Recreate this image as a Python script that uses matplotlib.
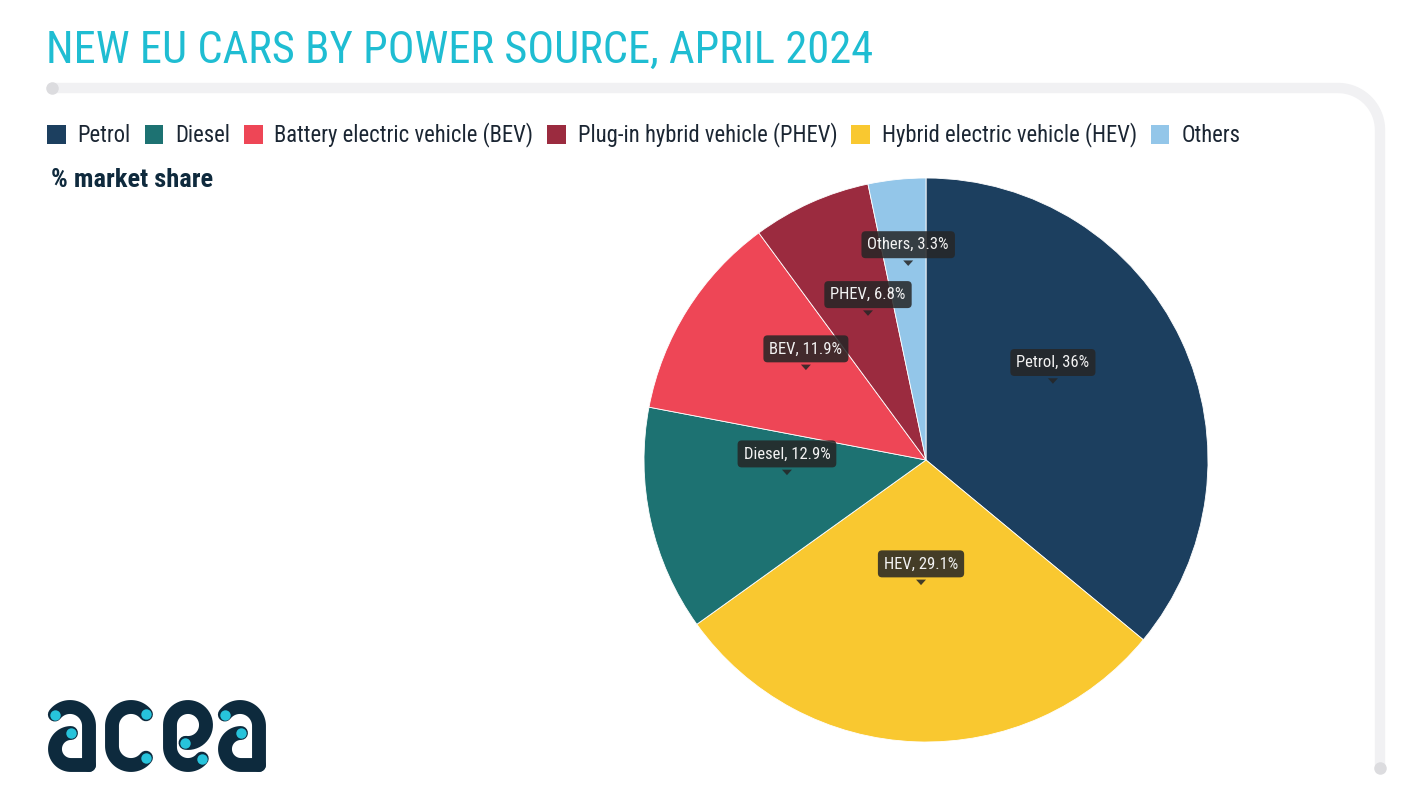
import numpy as np
import matplotlib
matplotlib.use("Agg")
import matplotlib.pyplot as plt
from matplotlib import font_manager
from matplotlib.patches import Patch, Polygon

# data
labels = ["Petrol", "HEV", "Diesel", "BEV", "PHEV", "Others"]
shares = [36.0, 29.1, 12.9, 11.9, 6.8, 3.3]
share_text = ["36", "29.1", "12.9", "11.9", "6.8", "3.3"]
colors = ["#1c3f5f", "#f9c830", "#1d7272", "#ee4656", "#9b2b3f", "#93c6e9"]

legend_names = ["Petrol", "Diesel", "Battery electric vehicle (BEV)",
                "Plug-in hybrid vehicle (PHEV)", "Hybrid electric vehicle (HEV)", "Others"]
legend_keys = ["Petrol", "Diesel", "BEV", "PHEV", "HEV", "Others"]

title = "NEW EU CARS BY POWER SOURCE, APRIL 2024"
subtitle = "% market share"


def pick_font(cands):
    have = {f.name for f in font_manager.fontManager.ttflist}
    for c in cands:
        if c in have:
            return c
    return "DejaVu Sans"


narrow = pick_font(["Roboto Condensed", "Liberation Sans Narrow", "Open Sans Condensed", "Roboto"])

W, H = 1418, 811
fig = plt.figure(figsize=(W / 100, H / 100), dpi=100)
fig.patch.set_facecolor("white")

# overlay in pixel units (y down) for frame and logo
bg = fig.add_axes([0, 0, 1, 1])
bg.set_xlim(0, W)
bg.set_ylim(H, 0)
bg.axis("off")


def fx(px):
    return px / W


def fy(py):
    return 1 - py / H


# frame line with rounded corner
cr = 42
t = np.linspace(np.pi / 2, 0, 30)
xs = np.concatenate([[52, 1380 - cr], 1380 - cr + cr * np.cos(t), [1380, 1380]])
ys = np.concatenate([[88, 88], 88 + cr - cr * np.sin(t), [88 + cr, 768]])
bg.plot(xs, ys, lw=7.5, color="#f1f1f3", solid_capstyle="round", solid_joinstyle="round")
bg.plot([52, 1380], [88, 768], ls="none", marker="o", ms=9, color="#dcdcdf", mec="none")

# title and subtitle
fig.text(fx(46), fy(51), title, fontsize=32, color="#1fbdd2", family=narrow,
         va="center", ha="left")
fig.text(fx(51), fy(180), subtitle, fontsize=19, color="#0f2a3d", family=narrow,
         fontweight="bold", va="center", ha="left")

# legend
col_of = dict(zip(labels, colors))
handles = [Patch(facecolor=col_of[k], edgecolor="none") for k in legend_keys]
fig.legend(handles, legend_names, loc="center left", bbox_to_anchor=(fx(47), fy(135)),
           ncol=6, frameon=False, borderaxespad=0, borderpad=0,
           handlelength=0.82, handleheight=0.9, handletextpad=0.52, columnspacing=0.62,
           prop={"family": narrow, "size": 16.3}, labelcolor="#1b2633")

# pie
cx, cy, r = 926, 460, 282
ax = fig.add_axes([fx(cx - r), fy(cy + r), 2 * r / W, 2 * r / H])
wedges, _ = ax.pie(shares, colors=colors, startangle=90, counterclock=False,
                   wedgeprops=dict(linewidth=0.6, edgecolor="white"))
ax.set_xlim(-1, 1)
ax.set_ylim(-1, 1)
ax.set_aspect("equal")
ax.axis("off")

# data labels: dark callouts, pointer tip at (radius, angle shift from slice middle)
tip_at = {"Petrol": (0.525, 5.8), "HEV": (0.444, -0.3), "Diesel": (0.496, -6.2),
          "BEV": (0.532, -4.6), "PHEV": (0.551, -2.2), "Others": (0.691, -0.7)}
px = 1 / r
for w, name, txt in zip(wedges, labels, share_text):
    rr, shift = tip_at[name]
    ang = np.deg2rad((w.theta1 + w.theta2) / 2 + shift)
    tx, ty = rr * np.cos(ang), rr * np.sin(ang)
    ax.annotate(f"{name}, {txt}%", xy=(tx, ty), xytext=(0, 15.3), textcoords="offset points",
                ha="center", va="center", color="#f2f2f2", fontsize=12, family=narrow,
                bbox=dict(boxstyle="round,pad=0.36,rounding_size=0.25", fc="#262626",
                          ec="none", alpha=0.86))
    ax.add_patch(Polygon([(tx, ty), (tx - 5 * px, ty + 5.5 * px), (tx + 5 * px, ty + 5.5 * px)],
                         closed=True, fc="#262626", ec="none", alpha=0.86))

# logo "acea": round-capped strokes with cyan dots at the ends
navy, cyan, sw = "#0d2a3d", "#27c3db", 10.0


def arc(xc, yc, rad, a0, a1):
    a = np.deg2rad(np.linspace(a0, a1, 40))
    return list(xc + rad * np.cos(a)), list(yc - rad * np.sin(a))


def stroke(xs, ys):
    bg.plot(xs, ys, color=navy, lw=sw, solid_capstyle="round", solid_joinstyle="round")


def dot(x, y):
    bg.plot(x, y, marker="o", ms=7.5, color=cyan, mec="none", zorder=5)


for off in (0, 170):  # the two a's
    x1, y1 = arc(70 + off, 726, 19, 143, 0)
    stroke(x1 + [89 + off], y1 + [765])
    x2, y2 = arc(71 + off, 749, 16, 90, 270)
    stroke(x2 + [89 + off], y2 + [765])
    dot(x1[0], y1[0])
    dot(x2[0], y2[0])

# c
x1, y1 = arc(131, 726, 19, 38, 180)
x2, y2 = arc(131, 746, 19, 180, 322)
stroke(x1 + x2, y1 + y2)
dot(x1[0], y1[0])
dot(x2[-1], y2[-1])

# e
x1, y1 = arc(188, 725, 18, -98, 180)
x2, y2 = arc(188, 747, 18, 180, 320)
stroke(x1 + x2, y1 + y2)
dot(x1[0], y1[0])
dot(x2[-1], y2[-1])

fig.savefig("out.png", dpi=100)
